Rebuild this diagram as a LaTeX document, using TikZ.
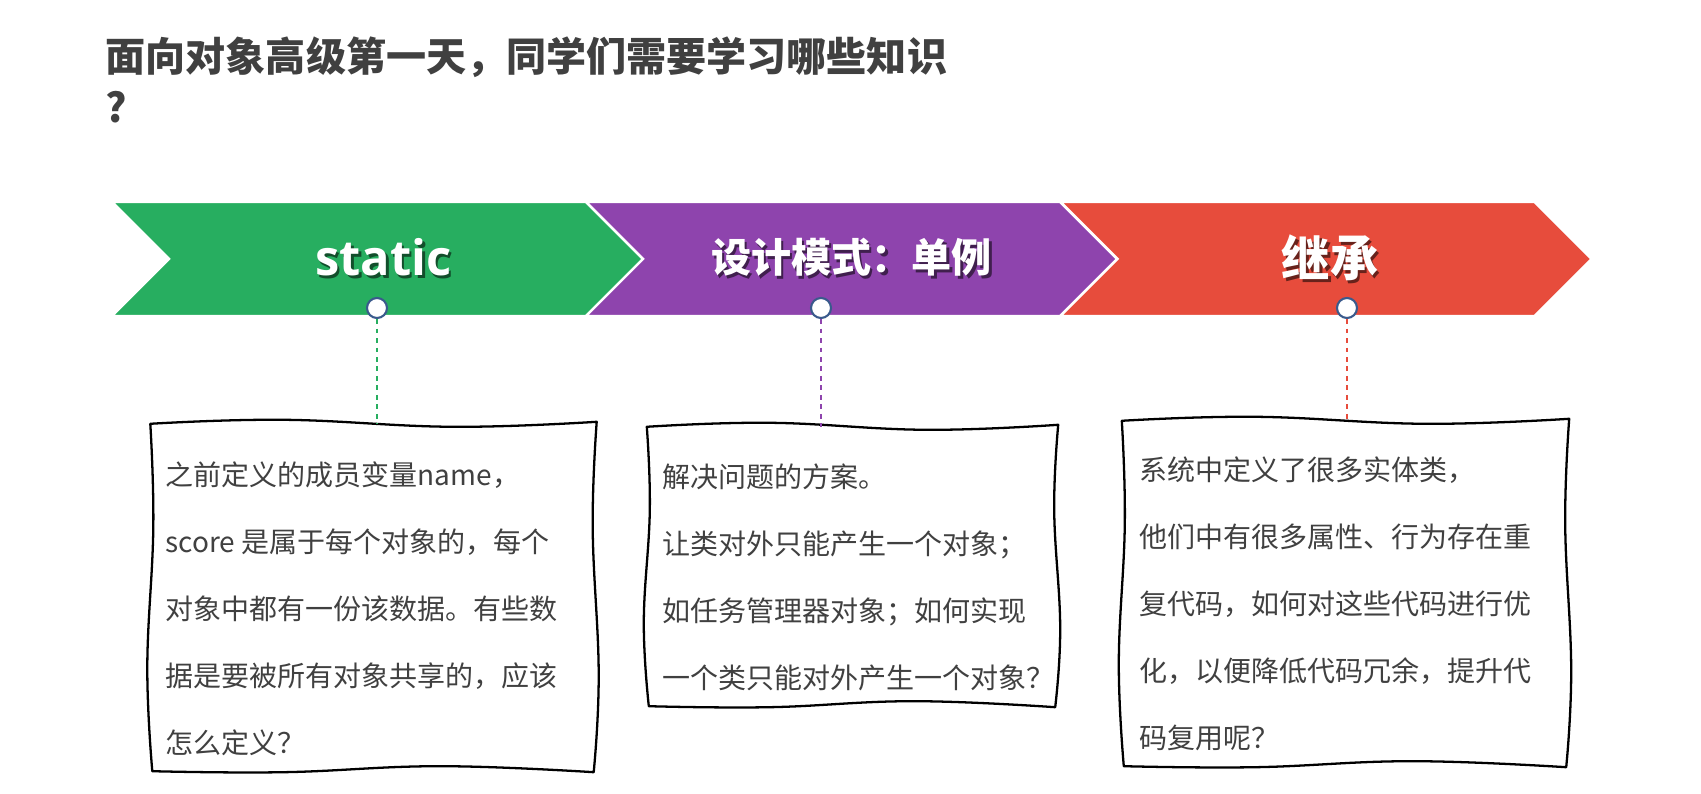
\documentclass[tikz,border=0pt]{standalone}
\usepackage{fontspec}
\setmainfont{Noto Sans CJK SC}
\newfontfamily\opensans{Open Sans}
\usetikzlibrary{shapes.symbols,calc,positioning}
\definecolor{stepgreen}{HTML}{27AE60}
\definecolor{steppurple}{HTML}{8E44AD}
\definecolor{stepred}{HTML}{E74C3C}
\definecolor{inkdark}{HTML}{404040}
\definecolor{pinline}{HTML}{3A5A8C}

% label with a soft drop shadow: {shadow colour}{text}
\newcommand\shadowed[2]{%
  \makebox[0pt][l]{\hspace*{0.25mm}\raisebox{-0.3mm}{\textcolor{#1}{#2}}}#2}

% hand-drawn frame round a named node
\newcommand\wobble[1]{%
  \draw[memoline]
    plot[smooth, tension=0.7] coordinates {(#1.north west)
      ($(#1.north west)!.3!(#1.north east)+(0,-4)$) ($(#1.north west)!.68!(#1.north east)+(0,3)$)
      ($(#1.north east)+(1,-2)$)}
    -- plot[smooth, tension=0.7] coordinates {($(#1.north east)+(1,-2)$)
      ($(#1.north east)!.3!(#1.south east)+(-3,0)$) ($(#1.north east)!.72!(#1.south east)+(3,0)$)
      ($(#1.south east)+(-2,2)$)}
    -- plot[smooth, tension=0.7] coordinates {($(#1.south east)+(-2,2)$)
      ($(#1.south east)!.35!(#1.south west)+(0,-4)$) ($(#1.south east)!.7!(#1.south west)+(0,2)$)
      ($(#1.south west)+(2,1)$)}
    -- plot[smooth, tension=0.7] coordinates {($(#1.south west)+(2,1)$)
      ($(#1.south west)!.3!(#1.north west)+(-3,0)$) ($(#1.south west)!.7!(#1.north west)+(3,0)$)
      (#1.north west)} -- cycle;}

\begin{document}
\begin{tikzpicture}[
  x=0.1mm, y=-0.1mm,
  chev/.style     = {signal, signal from=west, signal to=east, signal pointer angle=90,
                     minimum width=53.1mm, minimum height=11.4mm, inner sep=0pt,
                     draw=white, line width=0.7pt, text=white, font=\bfseries},
  pin/.style      = {circle, draw=pinline, fill=white, line width=0.6pt,
                     minimum size=2mm, inner sep=0pt},
  lead/.style     = {line width=0.6pt, dash pattern=on 1.4pt off 1.3pt},
  memo/.style     = {inner sep=0pt},
  memoline/.style = {draw=black, line width=0.65pt, line join=round},
  memotxt/.style  = {anchor=north west, inner sep=0pt, align=left, text=inkdark,
                     font=\fontsize{7.97pt}{19.07pt}\selectfont},
]
\useasboundingbox (0,0) rectangle (1701,794);

% --- heading ---------------------------------------------------------------
\node[anchor=west, align=left, inner sep=0pt, text=inkdark,
      font=\fontsize{11.4pt}{14.5pt}\selectfont\bfseries] (title) at (105,80)
  {面向对象高级第一天，同学们需要学习哪些知识\\?};

% --- the three steps -------------------------------------------------------
\node[chev, fill=stepgreen]  (stat)  at (377.5,259)
  {\opensans\fontsize{13.9pt}{16pt}\selectfont\hspace*{1.2mm}\shadowed{stepgreen!45!black}{static}};
\node[chev, fill=steppurple] (singl) at (851.5,259)
  {\fontsize{11.4pt}{14pt}\selectfont\shadowed{steppurple!45!black}{设计模式：单例}};
\node[chev, fill=stepred]    (inher) at (1326,259)
  {\fontsize{13.7pt}{16pt}\selectfont\hspace*{0.8mm}\shadowed{stepred!45!black}{继承}};

\node[pin] (pin1) at (377,308) {};
\node[pin] (pin2) at (821,308) {};
\node[pin] (pin3) at (1347,308) {};

% --- notes under each step -------------------------------------------------
\node[memo, minimum width=44.4mm, minimum height=34.5mm] (memo1) at (373,597) {};
\node[memo, minimum width=40.9mm, minimum height=27.7mm] (memo2) at (852,566) {};
\node[memo, minimum width=44.5mm, minimum height=34.3mm] (memo3) at (1345,593) {};
\wobble{memo1}
\wobble{memo2}
\wobble{memo3}

\node[memotxt] (txt1) at (165,461)
  {之前定义的成员变量name，\\score 是属于每个对象的，每个\\对象中都有一份该数据。有些数\\据是要被所有对象共享的，应该\\怎么定义？};
\node[memotxt] (txt2) at (662,463)
  {解决问题的方案。\\让类对外只能产生一个对象；\\如任务管理器对象；如何实现\\一个类只能对外产生一个对象？};
\node[memotxt] (txt3) at (1139,456)
  {系统中定义了很多实体类，\\他们中有很多属性、行为存在重\\复代码，如何对这些代码进行优\\化，以便降低代码冗余，提升代\\码复用呢？};

\draw[lead, draw=stepgreen]  (pin1.south) -- (pin1.south |- memo1.north);
\draw[lead, draw=steppurple] (pin2.south) -- (pin2.south |- memo2.north);
\draw[lead, draw=stepred]    (pin3.south) -- (pin3.south |- memo3.north);

\end{tikzpicture}
\end{document}
